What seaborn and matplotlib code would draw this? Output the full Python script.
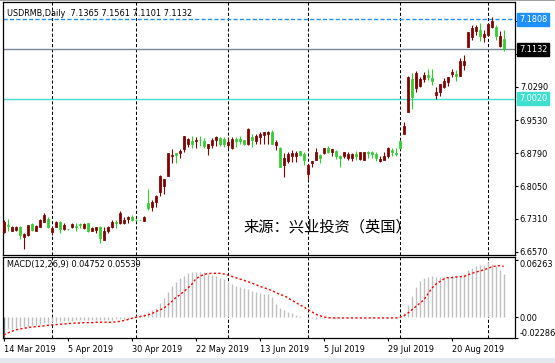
import numpy as np
import pandas as pd
import seaborn as sns
import matplotlib
matplotlib.use("Agg")
import matplotlib.pyplot as plt
from matplotlib import transforms
from matplotlib.patches import Rectangle

# ---------------- data ----------------
symbol_header = "USDRMB,Daily  7.1365 7.1561 7.1101 7.1132"
macd_header = "MACD(12,26,9) 0.04752 0.05539"
watermark = "来源：兴业投资（英国）"

first_day = "2019-03-14"
last_day = "2019-09-06"
closed_days = ["2019-04-19"]

opens = [6.701, 6.718, 6.705, 6.707, 6.712, 6.690, 6.694, 6.720, 6.705, 6.714,
         6.725, 6.732, 6.701, 6.714, 6.724, 6.708, 6.709, 6.714, 6.716, 6.719,
         6.710, 6.721, 6.705, 6.707, 6.712, 6.684, 6.703, 6.713, 6.725, 6.721,
         6.721, 6.731, 6.736, 6.729, 6.729, 6.727, 6.767, 6.757, 6.770, 6.791,
         6.805, 6.828, 6.874, 6.879, 6.880, 6.888, 6.900, 6.906, 6.906, 6.910,
         6.906, 6.892, 6.897, 6.909, 6.914, 6.911, 6.897, 6.890, 6.912, 6.912,
         6.909, 6.899, 6.916, 6.906, 6.916, 6.920, 6.922, 6.927, 6.898, 6.892,
         6.852, 6.862, 6.872, 6.874, 6.884, 6.877, 6.832, 6.858, 6.864, 6.875,
         6.879, 6.892, 6.883, 6.884, 6.874, 6.872, 6.869, 6.869, 6.877, 6.866,
         6.864, 6.881, 6.881, 6.877, 6.862, 6.864, 6.872, 6.886, 6.879, 6.906,
         6.923, 6.971, 7.046, 7.025, 7.030, 7.046, 7.055, 7.048, 7.010, 7.018,
         7.028, 7.040, 7.057, 7.057, 7.053, 7.078, 7.119, 7.141, 7.154, 7.156,
         7.140, 7.145, 7.163, 7.163, 7.120, 7.1365]
highs = [6.729, 6.730, 6.715, 6.715, 6.715, 6.699, 6.718, 6.723, 6.718, 6.730,
         6.744, 6.736, 6.714, 6.727, 6.726, 6.723, 6.709, 6.721, 6.721, 6.721,
         6.721, 6.723, 6.712, 6.714, 6.715, 6.714, 6.715, 6.729, 6.729, 6.750,
         6.736, 6.738, 6.741, 6.730, 6.729, 6.737, 6.798, 6.773, 6.784, 6.830,
         6.822, 6.880, 6.888, 6.880, 6.888, 6.918, 6.914, 6.918, 6.916, 6.918,
         6.914, 6.901, 6.914, 6.918, 6.916, 6.916, 6.916, 6.916, 6.916, 6.918,
         6.909, 6.936, 6.923, 6.923, 6.926, 6.927, 6.930, 6.931, 6.909, 6.894,
         6.879, 6.881, 6.886, 6.884, 6.884, 6.883, 6.855, 6.862, 6.892, 6.877,
         6.892, 6.896, 6.889, 6.886, 6.875, 6.881, 6.881, 6.879, 6.884, 6.882,
         6.882, 6.884, 6.884, 6.881, 6.872, 6.881, 6.894, 6.892, 6.890, 6.908,
         6.949, 7.053, 7.060, 7.065, 7.051, 7.062, 7.070, 7.068, 7.028, 7.036,
         7.048, 7.051, 7.068, 7.066, 7.093, 7.100, 7.153, 7.169, 7.169, 7.172,
         7.156, 7.172, 7.187, 7.169, 7.154, 7.1561]
lows = [6.699, 6.703, 6.703, 6.703, 6.687, 6.664, 6.692, 6.705, 6.703, 6.712,
        6.724, 6.710, 6.695, 6.712, 6.699, 6.706, 6.707, 6.710, 6.703, 6.710,
        6.709, 6.701, 6.703, 6.699, 6.678, 6.683, 6.699, 6.710, 6.710, 6.720,
        6.720, 6.721, 6.727, 6.727, 6.728, 6.727, 6.751, 6.750, 6.758, 6.782,
        6.788, 6.828, 6.857, 6.857, 6.868, 6.883, 6.894, 6.892, 6.890, 6.896,
        6.890, 6.875, 6.890, 6.896, 6.896, 6.894, 6.890, 6.889, 6.894, 6.899,
        6.897, 6.897, 6.894, 6.899, 6.901, 6.899, 6.901, 6.899, 6.886, 6.847,
        6.825, 6.857, 6.860, 6.859, 6.874, 6.852, 6.820, 6.849, 6.864, 6.857,
        6.877, 6.879, 6.874, 6.866, 6.849, 6.868, 6.864, 6.862, 6.864, 6.864,
        6.864, 6.869, 6.869, 6.862, 6.860, 6.864, 6.869, 6.872, 6.872, 6.889,
        6.923, 6.971, 6.979, 7.016, 7.029, 7.040, 7.044, 7.033, 7.001, 7.008,
        7.025, 7.030, 7.051, 7.042, 7.052, 7.066, 7.119, 7.134, 7.145, 7.132,
        7.130, 7.143, 7.162, 7.134, 7.119, 7.1101]
closes = [6.724, 6.715, 6.712, 6.712, 6.694, 6.698, 6.718, 6.707, 6.715, 6.729,
          6.740, 6.712, 6.710, 6.724, 6.709, 6.718, 6.708, 6.719, 6.714, 6.717,
          6.720, 6.703, 6.710, 6.712, 6.688, 6.703, 6.714, 6.725, 6.721, 6.744,
          6.729, 6.736, 6.729, 6.728, 6.728, 6.736, 6.755, 6.770, 6.782, 6.828,
          6.820, 6.879, 6.876, 6.875, 6.885, 6.917, 6.912, 6.899, 6.908, 6.909,
          6.896, 6.899, 6.910, 6.916, 6.899, 6.901, 6.905, 6.911, 6.906, 6.906,
          6.899, 6.933, 6.909, 6.918, 6.923, 6.927, 6.927, 6.901, 6.905, 6.849,
          6.868, 6.877, 6.880, 6.880, 6.875, 6.864, 6.852, 6.862, 6.881, 6.869,
          6.892, 6.881, 6.889, 6.872, 6.869, 6.881, 6.877, 6.877, 6.874, 6.881,
          6.881, 6.880, 6.877, 6.869, 6.866, 6.874, 6.892, 6.883, 6.878, 6.890,
          6.941, 7.051, 7.005, 7.060, 7.046, 7.055, 7.051, 7.042, 7.018, 7.035,
          7.042, 7.050, 7.062, 7.053, 7.086, 7.088, 7.152, 7.162, 7.163, 7.143,
          7.147, 7.171, 7.178, 7.143, 7.143, 7.1132]

macd_main = [-0.02286, -0.0131, -0.0123, -0.0116, -0.0109, -0.0102, -0.0094, -0.0087, -0.0080, -0.0073,
             -0.0065, -0.0058, -0.0051, -0.0047, -0.0044, -0.0040, -0.0036, -0.0036, -0.0033, -0.0033,
             -0.0029, -0.0029, -0.0029, -0.0029, -0.0029, -0.0029, -0.0025, -0.0025, -0.0022, -0.0018,
             -0.0018, -0.0015, -0.0011, 0.0011, 0.0022, 0.0033, 0.0054, 0.0076, 0.0105, 0.0152,
             0.0214, 0.0280, 0.0338, 0.0381, 0.0425, 0.0454, 0.0479, 0.0494, 0.0497, 0.0497,
             0.0490, 0.0476, 0.0461, 0.0446, 0.0432, 0.0417, 0.0388, 0.0359, 0.0341, 0.0330,
             0.0316, 0.0309, 0.0287, 0.0272, 0.0261, 0.0254, 0.0250, 0.0225, 0.0142, 0.0098,
             0.0076, 0.0062, 0.0044, 0.0029, 0.0018, 0.0007, -0.0004, -0.0011, -0.0015, -0.0011,
             -0.0007, -0.0006, -0.0004, -0.0004, -0.0002, -0.0002, 0.0002, 0.0004, 0.0002, 0.0002,
             0.0004, 0.0004, 0.0002, 0.0002, 0.0002, 0.0004, 0.0004, 0.0006, 0.0008, 0.0011,
             0.0044, 0.0134, 0.0236, 0.0327, 0.0396, 0.0425, 0.0439, 0.0450, 0.0439, 0.0439,
             0.0436, 0.0439, 0.0446, 0.0446, 0.0454, 0.0468, 0.0512, 0.0541, 0.0563, 0.0570,
             0.0570, 0.0599, 0.0577, 0.0555, 0.0519, 0.04752]
macd_signal = [-0.0192, -0.0171, -0.0152, -0.0138, -0.0127, -0.0120, -0.0113, -0.0105, -0.0102, -0.0098,
               -0.0094, -0.0087, -0.0083, -0.0080, -0.0076, -0.0073, -0.0069, -0.0065, -0.0062, -0.0062,
               -0.0058, -0.0058, -0.0058, -0.0054, -0.0054, -0.0054, -0.0054, -0.0054, -0.0051, -0.0044,
               -0.0036, -0.0025, -0.0011, 0.0000, 0.0007, 0.0015, 0.0025, 0.0040, 0.0062, 0.0080,
               0.0098, 0.0134, 0.0171, 0.0214, 0.0243, 0.0280, 0.0316, 0.0359, 0.0417, 0.0446,
               0.0465, 0.0476, 0.0479, 0.0479, 0.0479, 0.0472, 0.0461, 0.0446, 0.0432, 0.0417,
               0.0403, 0.0388, 0.0374, 0.0356, 0.0338, 0.0323, 0.0309, 0.0290, 0.0272, 0.0250,
               0.0236, 0.0214, 0.0185, 0.0163, 0.0134, 0.0116, 0.0083, 0.0062, 0.0033, 0.0018,
               0.0004, -0.0004, -0.0007, -0.0007, -0.0007, -0.0007, -0.0007, -0.0007, -0.0007, -0.0007,
               -0.0007, -0.0007, -0.0007, -0.0007, -0.0007, -0.0007, -0.0007, -0.0007, -0.0007, 0.0000,
               0.0015, 0.0044, 0.0080, 0.0116, 0.0152, 0.0189, 0.0250, 0.0316, 0.0359, 0.0388,
               0.0417, 0.0432, 0.0432, 0.0439, 0.0443, 0.0443, 0.0461, 0.0479, 0.0490, 0.0505,
               0.0515, 0.0534, 0.0548, 0.0559, 0.0563, 0.05539]

price_ticks = [6.6570, 6.7310, 6.8050, 6.8790, 6.9530, 7.0290, 7.1030, 7.1770]
macd_ticks = [0.06263, 0.0, -0.02286]
macd_tick_labels = ["0.06263", "0.00", "-0.02286"]
level_ask = 7.1808
level_bid = 7.1132
level_line = 7.0020

# ---------------- build frame ----------------
dates = pd.bdate_range(first_day, last_day)
dates = dates[~dates.isin(pd.to_datetime(closed_days))]
df = pd.DataFrame({"date": dates, "open": opens, "high": highs,
                   "low": lows, "close": closes,
                   "macd": macd_main, "signal": macd_signal})
df["bar"] = np.arange(len(df))
df["up"] = df["close"] >= df["open"]

label_bars = df["bar"][::16].tolist()
label_text = [f"{d.day} {d:%b %Y}" for d in df["date"][::16]]
month_starts = df["bar"][df["date"].dt.month != df["date"].dt.month.shift(1)].tolist()[1:]

# ---------------- style ----------------
sns.set_theme(style="white")
plt.rcParams["font.family"] = ["DejaVu Sans"]
FS = 5.9
UP, DOWN = "#800000", "#32CD32"

W, H = 555, 363
fig = plt.figure(figsize=(W / 100, H / 100), dpi=100)
fig.patch.set_facecolor("white")

def fx(px):
    return px / W

def fy(py):
    return 1 - py / H

ax = fig.add_axes([fx(3), fy(255), fx(512), 253 / H])
axm = fig.add_axes([fx(3), fy(338.3), fx(512), (338.3 - 256.7) / H])

x_lo, x_hi = (3 - 3.7) / 4, (515 - 3.7) / 4
for a in (ax, axm):
    a.set_facecolor("white")
    a.set_xlim(x_lo, x_hi)
    for s in a.spines.values():
        s.set_color("black")
        s.set_linewidth(0.9)
    for b in month_starts:
        a.axvline(b, color="black", lw=0.75, dashes=(3, 2), zorder=1)

# ---- price panel ----
ax.set_ylim(6.6499, 7.2198)
ax.axhline(level_ask, color="#1E90FF", lw=1.0, dashes=(3, 1.6), zorder=1)
ax.axhline(level_bid, color="#778899", lw=1.0, zorder=1)
ax.axhline(level_line, color="#40E0D0", lw=1.0, zorder=1)

colors = np.where(df["up"], UP, DOWN)
ax.vlines(df["bar"], df["low"], df["high"], colors=colors, lw=0.8, zorder=3)
body_lo = np.minimum(df["open"], df["close"])
body_h = (df["close"] - df["open"]).abs()
ax.bar(df["bar"], body_h, bottom=body_lo, width=0.6, color=colors,
       edgecolor=colors, linewidth=0.55, zorder=4)

# labels of the ticks that sit under the level boxes stay hidden, as in the source
covered = {7.1770, 7.1030}
ax.yaxis.tick_right()
ax.set_yticks(price_ticks)
ax.set_yticklabels(["" if v in covered else f"{v:.4f}" for v in price_ticks])
ax.tick_params(axis="y", which="both", right=True, length=2, width=0.8,
               pad=1.5, labelsize=FS, colors="black", direction="out")
ax.set_xticks([])

# ---- MACD panel ----
axm.set_ylim(-0.02286, 0.0660)
axm.vlines(df["bar"], 0, df["macd"], colors=["#708090"] + ["#C0C0C0"] * (len(df) - 1),
           lw=1.0, zorder=2)
sns.lineplot(x=df["bar"], y=df["signal"], ax=axm, color="red", lw=1.0,
             dashes=False, zorder=3)
axm.lines[-1].set_dashes((1.6, 1.6))
axm.set_xlabel("")
axm.set_ylabel("")
axm.yaxis.tick_right()
axm.set_yticks(macd_ticks)
axm.set_yticklabels(macd_tick_labels)
axm.tick_params(axis="y", right=True, length=2, width=0.8, pad=1.5,
                labelsize=FS, colors="black", direction="out")
ylabs = axm.get_yticklabels()
ylabs[0].set_va("top")
ylabs[2].set_va("bottom")

axm.set_xticks(label_bars)
axm.set_xticklabels(label_text)
axm.tick_params(axis="x", bottom=True, length=2.5, width=0.8, pad=2.5,
                labelsize=FS, colors="black", direction="out")
for t in axm.get_xticklabels():
    t.set_ha("left")

# ---- texts ----
fig.text(fx(7.3), fy(13), symbol_header, fontsize=FS, va="center", ha="left", color="black")
fig.text(fx(7.3), fy(265), macd_header, fontsize=FS, va="center", ha="left", color="black")
fig.text(fx(327), fy(227), watermark, fontsize=11, va="center", ha="center",
         color="black", family=["Noto Sans CJK SC", "DejaVu Sans"], zorder=6)

blend = transforms.blended_transform_factory(fig.transFigure, ax.transData)
for lvl, bg in [(level_ask, "#1E90FF"), (level_bid, "black"), (level_line, "#40E0D0")]:
    fig.text(fx(519.3), lvl, f"{lvl:.4f}", transform=blend, fontsize=FS,
             va="center", ha="left", color="white", zorder=10,
             bbox=dict(boxstyle="square,pad=0.22", fc=bg, ec=bg))

fig.patches.append(Rectangle((0, 0), 1, 5 / H, transform=fig.transFigure,
                             facecolor="#e4e9ef", edgecolor="none", zorder=0))
fig.patches.append(Rectangle((0, 1 - 1.2 / H), 1, 1.2 / H, transform=fig.transFigure,
                             facecolor="#a0a0a0", edgecolor="none", zorder=0))

fig.savefig("out.png", dpi=100, facecolor="white")
